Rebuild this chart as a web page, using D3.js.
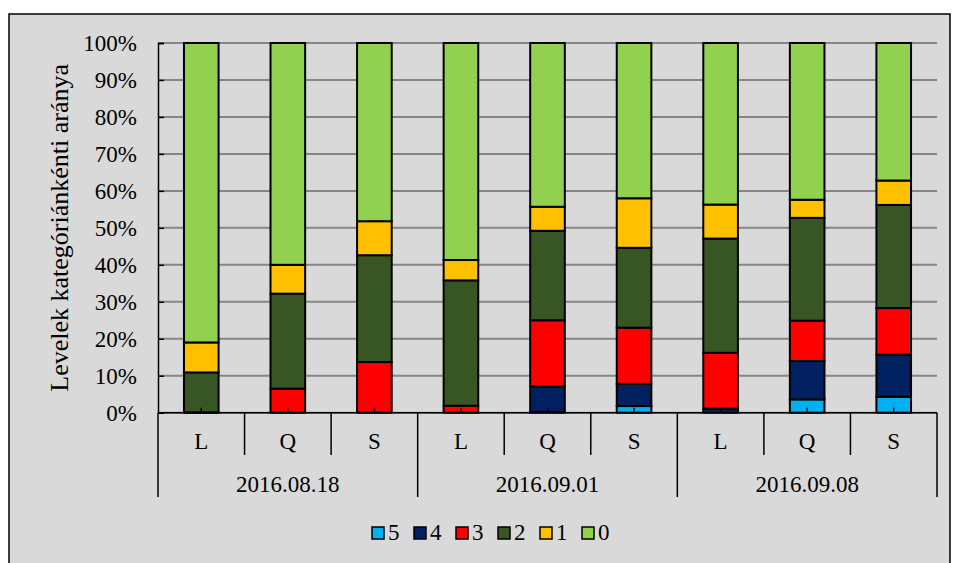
<!DOCTYPE html>
<html>
<head>
<meta charset="utf-8">
<script src="https://cdn.jsdelivr.net/npm/d3@7"></script>
<style>
  body { margin: 0; background: #fff; }
  text { font-family: "Liberation Serif", "Times New Roman", serif; fill: #000; }
</style>
</head>
<body>
<svg id="chart" width="954" height="563"></svg>
<script>
var dates = ["2016.08.18", "2016.09.01", "2016.09.08"]
var sites = ["L", "Q", "S"]
var keys = ["5", "4", "3", "2", "1", "0"]
var colors = ["#00b0f0", "#002060", "#ff0000", "#375623", "#ffc000", "#92d050"]

// percentages per bar, stacked from the bottom (5 -> 0)
var cat5 = [0, 0, 0, 0, 0.2, 1.8, 0, 3.6, 4.3]
var cat4 = [0, 0, 0, 0, 6.9, 6.0, 1.1, 10.4, 11.4]
var cat3 = [0.1, 6.5, 13.7, 1.9, 17.9, 15.2, 15.1, 10.9, 12.6]
var cat2 = [10.8, 25.7, 28.9, 33.9, 24.2, 21.6, 30.9, 27.8, 27.9]
var cat1 = [8.1, 7.8, 9.2, 5.5, 6.5, 13.4, 9.2, 4.9, 6.6]
var cat0 = [81.0, 60.0, 48.2, 58.7, 44.3, 42.0, 43.7, 42.4, 37.2]
var yTicks = [0, 10, 20, 30, 40, 50, 60, 70, 80, 90, 100]

var series = [cat5, cat4, cat3, cat2, cat1, cat0]
var rows = []
dates.forEach(function(d, i) {
    sites.forEach(function(s, j) {
        var idx = i * 3 + j
        var row = { id: idx, date: d, site: s }
        keys.forEach(function(k, ki) { row[k] = series[ki][idx] })
        rows.push(row)
    })
})

var svg = d3.select("svg#chart")
var plotLeft = 158, plotRight = 937, plotTop = 43, plotBottom = 412.7

// frame
svg.append("rect").attr("x", 9).attr("y", 14).attr("width", 941).attr("height", 560)
    .attr("fill", "#d9d9d9").attr("stroke", "#000").attr("stroke-width", 1.5)

var x = d3.scaleBand().domain(rows.map(function(d) { return d.id }))
    .range([plotLeft, plotRight]).paddingInner(0.6).paddingOuter(0.3)
var y = d3.scaleLinear().domain([0, 100]).range([plotBottom, plotTop])
var color = d3.scaleOrdinal().domain(keys).range(colors)

// gridlines
svg.append("g").selectAll("line").data(yTicks).enter().append("line")
    .attr("x1", plotLeft).attr("x2", plotRight)
    .attr("y1", function(d) { return y(d) }).attr("y2", function(d) { return y(d) })
    .attr("stroke", "#868686").attr("stroke-width", 2)

// y axis
var yAxis = svg.append("g").attr("transform", "translate(" + plotLeft + ",0)")
    .call(d3.axisLeft(y).tickValues(yTicks).tickSize(-6).tickPadding(21)
        .tickFormat(function(d) { return d + "%" }))
yAxis.attr("font-family", null).attr("font-size", null)
yAxis.select(".domain").attr("stroke", "#000").attr("stroke-width", 1.5)
yAxis.selectAll(".tick line").attr("stroke", "#000").attr("stroke-width", 1.5)
yAxis.selectAll(".tick text").style("font-size", "23px").attr("dy", "0.34em")

// stacked bars
var stack = d3.stack().keys(keys)(rows)
svg.append("g").selectAll("g").data(stack).enter().append("g")
    .attr("fill", function(d) { return color(d.key) })
    .selectAll("rect").data(function(d) { return d }).enter().append("rect")
    .attr("x", function(d) { return x(d.data.id) })
    .attr("width", x.bandwidth())
    .attr("y", function(d) { return y(d[1]) })
    .attr("height", function(d) { return y(d[0]) - y(d[1]) })
    .attr("stroke", function(d) { return d[1] - d[0] > 0 ? "#000" : "none" })
    .attr("stroke-width", 2)

// x axis line + small center ticks
svg.append("line").attr("x1", plotLeft).attr("x2", plotRight).attr("y1", plotBottom).attr("y2", plotBottom)
    .attr("stroke", "#000").attr("stroke-width", 1.5)
svg.append("g").selectAll("line").data(rows).enter().append("line")
    .attr("x1", function(d) { return x(d.id) + x.bandwidth() / 2 })
    .attr("x2", function(d) { return x(d.id) + x.bandwidth() / 2 })
    .attr("y1", plotBottom).attr("y2", plotBottom - 5)
    .attr("stroke", "#000").attr("stroke-width", 1.5)

// category separators
var step = x.step()
var seps = d3.range(rows.length + 1)
svg.append("g").selectAll("line").data(seps).enter().append("line")
    .attr("x1", function(i) { return plotLeft + i * step })
    .attr("x2", function(i) { return plotLeft + i * step })
    .attr("y1", plotBottom)
    .attr("y2", function(i) { return i % 3 == 0 ? 497 : 455 })
    .attr("stroke", "#000").attr("stroke-width", 1.5)

// site labels
svg.append("g").selectAll("text").data(rows).enter().append("text")
    .attr("x", function(d) { return x(d.id) + x.bandwidth() / 2 })
    .attr("y", 449)
    .attr("text-anchor", "middle").style("font-size", "23px")
    .text(function(d) { return d.site })

// date labels
svg.append("g").selectAll("text").data(dates).enter().append("text")
    .attr("x", function(d, i) { return plotLeft + (i * 3 + 1.5) * step })
    .attr("y", 492)
    .attr("text-anchor", "middle").style("font-size", "23px")
    .text(function(d) { return d })

// y title
svg.append("text")
    .attr("transform", "translate(68," + ((plotTop + plotBottom) / 2) + ") rotate(-90)")
    .attr("text-anchor", "middle").style("font-size", "26px")
    .text("Levelek kategóriánkénti aránya")

// legend
var legend = svg.append("g").selectAll("g").data(keys).enter().append("g")
    .attr("transform", function(d, i) { return "translate(" + (372 + i * 42) + ",527)" })
legend.append("rect").attr("width", 12).attr("height", 12)
    .attr("fill", function(d) { return color(d) }).attr("stroke", "#000").attr("stroke-width", 1.5)
legend.append("text").attr("x", 16).attr("y", 13).style("font-size", "23px")
    .text(function(d) { return d })
</script>
</body>
</html>
